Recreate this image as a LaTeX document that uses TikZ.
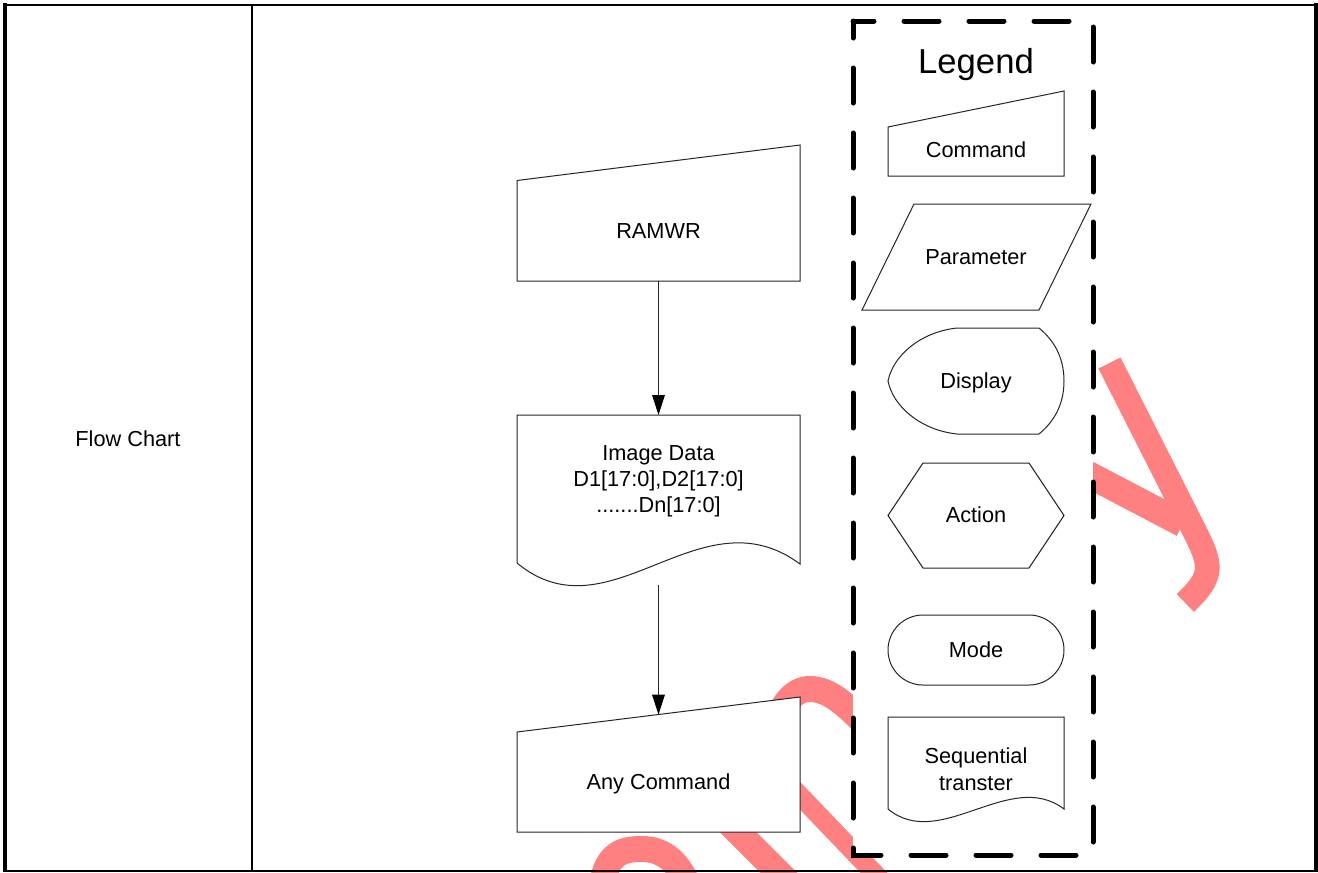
\documentclass[tikz,border=0pt]{standalone}
\usepackage{fontspec}
\setmainfont{Liberation Sans}
\usetikzlibrary{arrows.meta}
\definecolor{wm}{RGB}{255,128,128}
\begin{document}
\begin{tikzpicture}[x=0.75pt,y=-0.75pt,
  shp/.style={draw=black!85, line width=0.75pt, fill=white},
  lbl/.style={anchor=base, inner sep=0pt, font=\fontsize{16.3}{19.5}\selectfont},
  wmk/.style={draw=wm, line width=#1},
  wmk/.default=19.5pt,
  arr/.style={draw=black!85, line width=0.75pt, -{Triangle[length=15pt,width=9.5pt,color=black]}},
  tbl/.style={draw=black},
  hold/.style={draw=none, inner sep=0pt, outer sep=0pt},
  legbox/.style={draw=black, fill=white, line width=3.75pt, line cap=round, dash pattern=on 26.25pt off 22.5pt, dash phase=13.5pt}
  ]
\useasboundingbox (0,0) rectangle (1318,872);
\fill[white] (0,0) rectangle (1318,872);

% watermark strokes
\draw[wmk=18.5pt] (1109.5,363) -- (1194,530) .. controls (1212,565.6) and (1214.1,575.4) .. (1185.3,603);
\draw[wmk=20pt] (1060,459.5) -- (1183,524);
\draw[wmk] (772,745) .. controls (778,702) and (795,689) .. (810,689) .. controls (828,689) and (845,702) .. (875,735);
\draw[wmk=14.5pt] (760,754) -- (900,900);
\draw[wmk] (700,794) -- (800,894);
\draw[wmk] (602,885) .. controls (607,852) and (624,849) .. (642,849) .. controls (662,849) and (677,860) .. (688,885);

% table
\draw[tbl, line width=1.5pt] (3,5) -- (1318,5);
\draw[tbl, line width=1.5pt] (3,870.5) -- (1318,870.5);
\draw[tbl, line width=3pt] (5,3) -- (5,872);
\draw[tbl, line width=3pt] (1316,3) -- (1316,872);
\draw[tbl, line width=1.5pt] (252,5) -- (252,870.5);
\node[lbl] (flowchart) at (128,446) {Flow Chart};

% legend box
\draw[legbox] (853,21) -- (853,855) -- (1093,855) -- (1093,21) -- cycle;
\node[lbl, font=\fontsize{26}{30}\selectfont] (legend) at (976,73.3) {Legend};

% legend shapes
\draw[shp] (888,127) -- (1064,91) -- (1064,176) -- (888,176) -- cycle;
\node[lbl] (lcmd) at (976,157.7) {Command};
\draw[shp] (914,204) -- (1091,204) -- (1039,310) -- (862,310) -- cycle;
\node[lbl] (lpar) at (976,264) {Parameter};
\draw[shp] (957,328) -- (1039,328) .. controls (1056,342) and (1064,360) .. (1064,381)
  .. controls (1064,402) and (1056,420) .. (1039,434) -- (957,434)
  .. controls (920,430) and (893,406) .. (888,381)
  .. controls (893,356) and (920,332) .. (957,328) -- cycle;
\node[lbl] (ldisp) at (976,388.4) {Display};
\draw[shp] (923,463) -- (1029,463) -- (1064,515.5) -- (1029,568) -- (923,568) -- (888,515.5) -- cycle;
\node[lbl] (lact) at (976,522.7) {Action};
\draw[shp, rounded corners=26.25pt] (888,615) rectangle (1064,685);
\node[lbl] (lmode) at (976,657.4) {Mode};
\draw[shp] (888,809) -- (888,717) -- (1064,717) -- (1064,809)
  .. controls (1010,768) and (940,852) .. (888,809) -- cycle;
\node[lbl] (lseq1) at (976,763.7) {Sequential};
\node[lbl] (lseq2) at (976,790) {transter};

% flow chart
\node[hold, minimum width=212.25pt, minimum height=102pt] (ramwr) at (658.5,213) {};
\draw[shp] (517,180.5) -- (800,145) -- (800,281) -- (517,281) -- cycle;
\node[lbl] (ramwrt) at (658.5,238.8) {RAMWR};

\node[hold, minimum width=212.25pt, minimum height=127.5pt] (img) at (658.5,500) {};
\draw[shp] (517,563) -- (517,415) -- (800,415) -- (800,564)
  .. controls (700,490) and (610,640) .. (517,563) -- cycle;
\node[lbl] (imgt1) at (658.5,460) {Image Data};
\node[lbl] (imgt2) at (658.5,486) {D1[17:0],D2[17:0]};
\node[lbl] (imgt3) at (658.5,512) {.......Dn[17:0]};

\node[hold, minimum width=212.25pt, minimum height=101.25pt] (anyc) at (658.5,764.5) {};
\coordinate (anyc-in) at (658.5,714.6);
\draw[shp] (517,732) -- (800,697) -- (800,832) -- (517,832) -- cycle;
\node[lbl] (anyct) at (658.5,789.3) {Any Command};

\draw[arr] (ramwr.south) -- (img.north);
\draw[arr] (img.south) -- (anyc-in);
\end{tikzpicture}
\end{document}
